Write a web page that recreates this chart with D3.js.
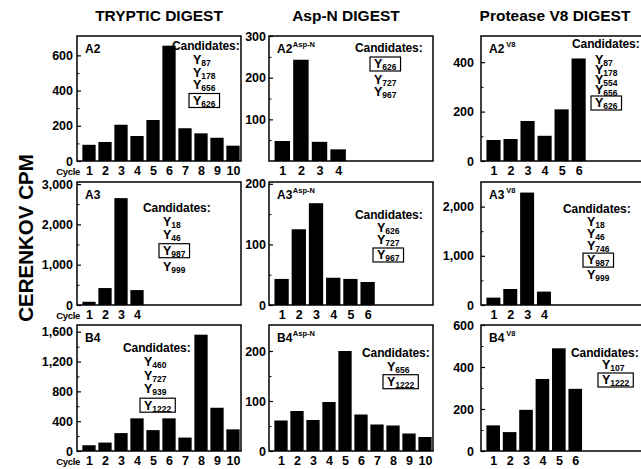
<!DOCTYPE html>
<html>
<head>
<meta charset="utf-8">
<script src="https://cdn.jsdelivr.net/npm/d3@7"></script>
<style>
  body { margin: 0; background: #fff; }
  text { font-family: "Liberation Sans", Arial, Helvetica, sans-serif; font-weight: bold; fill: #000; }
</style>
</head>
<body>
<svg id="chart"></svg>
<script>
// sequencing cycles
const cycles = d3.range(1, 11)

// column titles
const titles = ['TRYPTIC DIGEST', 'Asp-N DIGEST', 'Protease V8 DIGEST']
const yTitle = 'CERENKOV CPM'

// Cerenkov cpm released per cycle
const trypA2 = [92, 108, 206, 142, 233, 655, 186, 157, 132, 87]
const trypA3 = [80, 420, 2650, 370]
const trypB4 = [77, 113, 240, 438, 280, 438, 180, 1560, 580, 290]
const aspA2 = [48, 243, 46, 28]
const aspA3 = [43, 125, 168, 45, 43, 38]
const aspB4 = [61, 80, 62, 98, 200, 73, 53, 51, 35, 28]
const v8A2 = [85, 89, 162, 102, 209, 415]
const v8A3 = [150, 325, 2285, 272]
const v8B4 = [122, 90, 196, 343, 489, 296]

// labelled y ticks
const ticksTrypA2 = [0, 200, 400, 600]
const ticksTrypA3 = [0, 1000, 2000, 3000]
const ticksTrypB4 = [0, 400, 800, 1200, 1600]
const ticksAspA2 = [100, 200, 300]
const ticksAspA3 = [0, 100, 200]
const ticksAspB4 = [0, 100, 200]
const ticksV8A2 = [0, 200, 400]
const ticksV8A3 = [0, 1000, 2000]
const ticksV8B4 = [0, 200, 400, 600]

// candidate tyrosines (subscript numbers)
const candTrypA2 = ['87', '178', '656', '626']
const candTrypA3 = ['18', '46', '987', '999']
const candTrypB4 = ['460', '727', '939', '1222']
const candAspA2 = ['626', '727', '967']
const candAspA3 = ['626', '727', '967']
const candAspB4 = ['656', '1222']
const candV8A2 = ['87', '178', '554', '656', '626']
const candV8A3 = ['18', '46', '746', '987', '999']
const candV8B4 = ['107', '1222']

// the boxed candidate, per row (A2, A3, B4)
const pickTryp = ['626', '987', '1222']
const pickAsp = ['626', '967', '1222']
const pickV8 = ['626', '987', '1222']

const width = 641
const height = 469

const cols = [
  { left: 77, right: 241 },
  { left: 269, right: 433 },
  { left: 481, right: 645 }
]
const rows = [
  { top: 36, bottom: 161 },
  { top: 182, bottom: 305 },
  { top: 325, bottom: 451 }
]

// layout of each panel: slots = x extent in cycles, c*/l* = candidates block offsets
const panels = [
  { col: 0, row: 0, name: 'A2', sup: '', values: trypA2, slots: 10, yMax: 710, ticks: ticksTrypA2, cand: candTrypA2, pick: pickTryp[0], cx: 95, cy: 10, lx: 116, ly: 24, lh: 12.5 },
  { col: 0, row: 1, name: 'A3', sup: '', values: trypA3, slots: 10, yMax: 3050, ticks: ticksTrypA3, cand: candTrypA3, pick: pickTryp[1], cx: 66, cy: 26, lx: 86, ly: 39.7, lh: 13 },
  { col: 0, row: 2, name: 'B4', sup: '', values: trypB4, slots: 10, yMax: 1690, ticks: ticksTrypB4, cand: candTrypB4, pick: pickTryp[2], cx: 46, cy: 23, lx: 67, ly: 36.7, lh: 13.5 },
  { col: 1, row: 0, name: 'A2', sup: 'Asp-N', values: aspA2, slots: 8.6, yMax: 300, ticks: ticksAspA2, cand: candAspA2, pick: pickAsp[0], cx: 86, cy: 12, lx: 105, ly: 25, lh: 12.5 },
  { col: 1, row: 1, name: 'A3', sup: 'Asp-N', values: aspA3, slots: 9.3, yMax: 203, ticks: ticksAspA3, cand: candAspA3, pick: pickAsp[1], cx: 86, cy: 33, lx: 108, ly: 46, lh: 12 },
  { col: 1, row: 2, name: 'B4', sup: 'Asp-N', values: aspB4, slots: 10, yMax: 252, ticks: ticksAspB4, cand: candAspB4, pick: pickAsp[2], cx: 93, cy: 27.7, lx: 118, ly: 41.7, lh: 12 },
  { col: 2, row: 0, name: 'A2', sup: 'V8', values: v8A2, slots: 9.4, yMax: 506, ticks: ticksV8A2, cand: candV8A2, pick: pickV8[0], cx: 91, cy: 8, lx: 114, ly: 24, lh: 10 },
  { col: 2, row: 1, name: 'A3', sup: 'V8', values: v8A3, slots: 9.5, yMax: 2500, ticks: ticksV8A3, cand: candV8A3, pick: pickV8[1], cx: 82, cy: 27, lx: 106, ly: 39.7, lh: 11.8 },
  { col: 2, row: 2, name: 'B4', sup: 'V8', values: v8B4, slots: 9.75, yMax: 600, ticks: ticksV8B4, cand: candV8B4, pick: pickV8[2], cx: 90, cy: 28, lx: 121, ly: 40, lh: 12 }
]

const tickPad = [4, 3, 7]
const titleX = [159, 346, 555]

const svg = d3.select('#chart')
  .attr('width', width)
  .attr('height', height)

// column titles
svg.selectAll('.col-title')
  .data(titles)
  .enter()
  .append('text')
  .attr('class', 'col-title')
  .attr('x', (d, i) => titleX[i])
  .attr('y', 21)
  .attr('text-anchor', 'middle')
  .attr('font-size', 15.5)
  .text(d => d)

svg.append('text')
  .attr('transform', 'translate(33, 238) rotate(-90)')
  .attr('text-anchor', 'middle')
  .attr('font-size', 20.5)
  .text(yTitle)

panels.forEach(p => {
  const { left, right } = cols[p.col]
  const { top, bottom } = rows[p.row]
  const g = svg.append('g')

  const x = d3.scaleLinear()
    .domain([0.5, 0.5 + p.slots])
    .range([left + 4, right])
  const y = d3.scaleLinear()
    .domain([0, p.yMax])
    .range([bottom, top])
  const step = x(2) - x(1)
  const bw = step * 0.83

  // bars
  g.selectAll('.bar')
    .data(p.values)
    .enter()
    .append('rect')
    .attr('class', 'bar')
    .attr('x', (d, i) => x(cycles[i]) - bw / 2)
    .attr('y', d => y(d))
    .attr('width', bw)
    .attr('height', d => bottom - y(d))
    .attr('fill', '#000')

  // frame
  g.append('rect')
    .attr('x', left)
    .attr('y', top)
    .attr('width', right - left)
    .attr('height', bottom - top)
    .attr('fill', 'none')
    .attr('stroke', '#000')
    .attr('stroke-width', 1.5)

  // y axis, ticks pointing inward
  const major = p.ticks[1] - p.ticks[0]
  const minor = d3.range(major / 2, p.yMax, major).filter(v => v < p.yMax * 0.97)

  const yAxis = d3.axisLeft(y)
    .tickValues(p.ticks)
    .tickSize(-4)
    .tickPadding(tickPad[p.col])
    .tickFormat(d3.format(','))
  const ya = g.append('g')
    .attr('transform', `translate(${left}, 0)`)
    .call(yAxis)
  ya.select('.domain').remove()
  ya.selectAll('line').attr('stroke', '#000').attr('stroke-width', 1.2)
  ya.selectAll('text')
    .attr('font-size', 12.5)
    .attr('font-family', null)

  const ym = g.append('g')
    .attr('transform', `translate(${left}, 0)`)
    .call(d3.axisLeft(y).tickValues(minor).tickSize(-2.5).tickFormat(''))
  ym.select('.domain').remove()
  ym.selectAll('line').attr('stroke', '#000').attr('stroke-width', 1)

  // cycle labels
  const xa = g.append('g')
    .attr('transform', `translate(0, ${bottom})`)
    .call(d3.axisBottom(x).tickValues(cycles.slice(0, p.values.length)).tickSize(0).tickPadding(5).tickFormat(d3.format('d')))
  xa.select('.domain').remove()
  xa.selectAll('text')
    .attr('font-size', 12.5)
    .attr('font-family', null)

  if (p.col === 0) {
    g.append('text')
      .attr('x', left + 3)
      .attr('y', bottom + 13.5)
      .attr('text-anchor', 'end')
      .attr('font-size', 9.5)
      .attr('letter-spacing', -0.3)
      .text('Cycle')
  }

  // panel name
  const name = g.append('text')
    .attr('x', left + 8)
    .attr('y', top + 16.5)
    .attr('font-size', 12)
    .text(p.name)
  if (p.sup) {
    name.append('tspan')
      .attr('dx', p.sup === 'V8' ? 2 : 0.5)
      .attr('dy', -6)
      .attr('font-size', 7.5)
      .text(p.sup)
  }

  // candidates
  g.append('text')
    .attr('x', left + p.cx)
    .attr('y', top + p.cy + 4.3)
    .attr('font-size', 12)
    .attr('letter-spacing', -0.1)
    .text('Candidates:')

  let cursor = top + p.ly
  p.cand.forEach(c => {
    const boxed = c === p.pick
    if (boxed) cursor += 3
    const t = g.append('text')
      .attr('x', left + p.lx)
      .attr('y', cursor + 4.3)
      .attr('font-size', 12.5)
    t.append('tspan').text('Y')
    t.append('tspan')
      .attr('dy', 2)
      .attr('font-size', 8.5)
      .text(c)
    if (boxed) {
      const w = t.node().getComputedTextLength()
      g.append('rect')
        .attr('x', left + p.lx - 4)
        .attr('y', cursor - 7)
        .attr('width', w + 8)
        .attr('height', 14)
        .attr('fill', 'none')
        .attr('stroke', '#000')
        .attr('stroke-width', 1.2)
      cursor += 3
    }
    cursor += p.lh
  })
})
</script>
</body>
</html>
